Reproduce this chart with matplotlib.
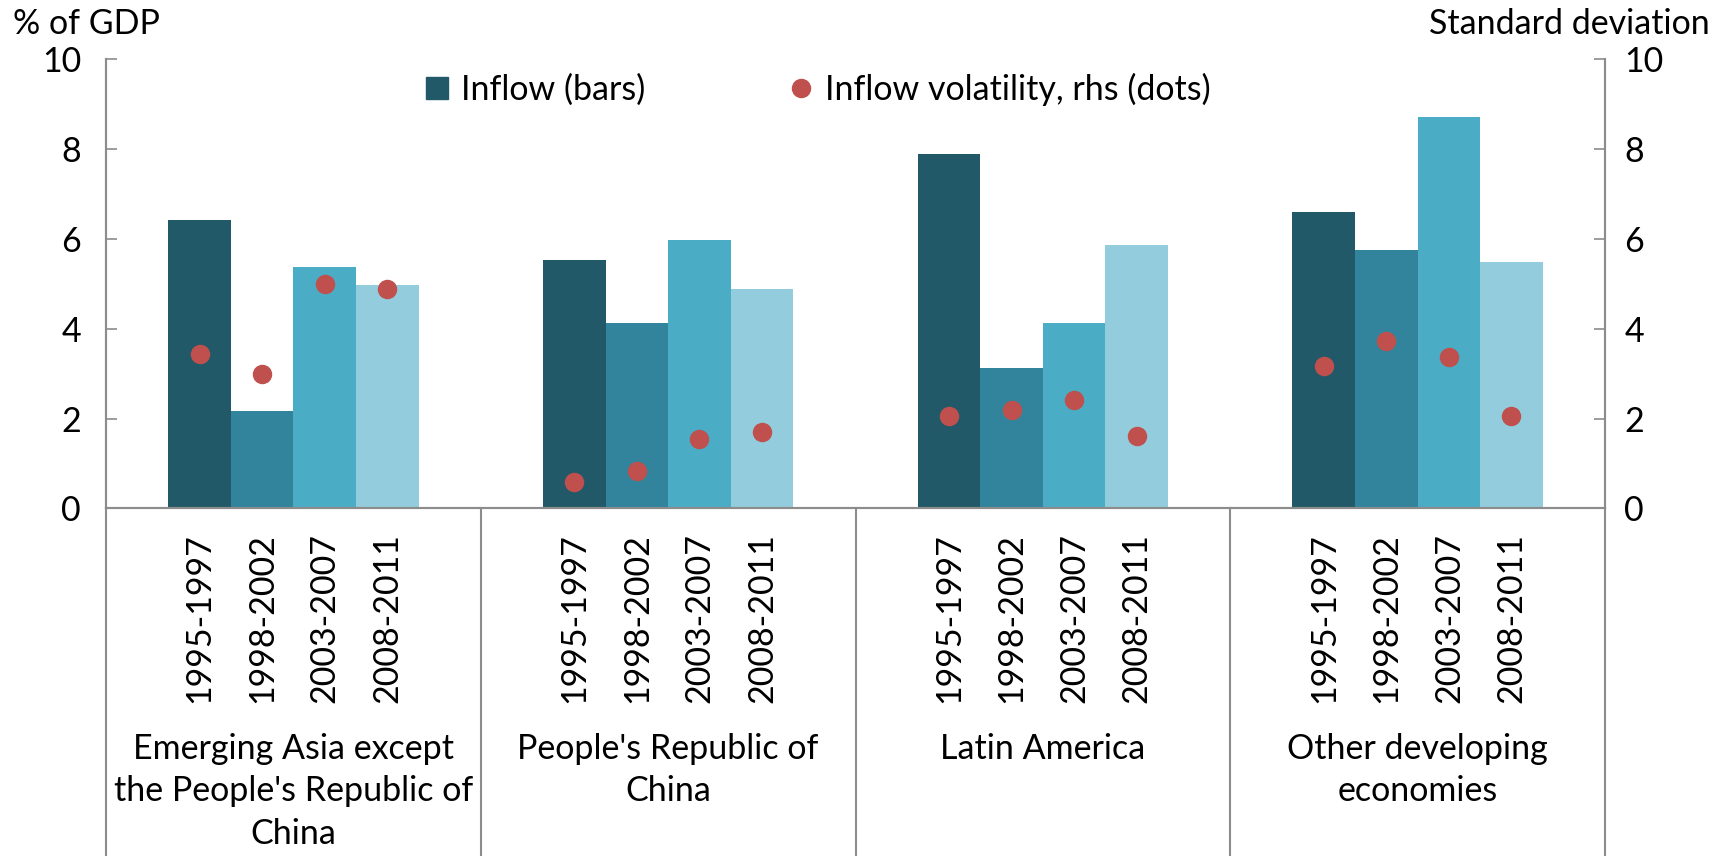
import matplotlib
matplotlib.use("Agg")
import matplotlib.pyplot as plt
import matplotlib.transforms as mtransforms
from matplotlib.lines import Line2D
import numpy as np

plt.rcParams["font.family"] = ["Lato", "DejaVu Sans"]

groups = ["Emerging Asia except\nthe People's Republic of\nChina",
          "People's Republic of\nChina",
          "Latin America",
          "Other developing\neconomies"]
periods = ["1995-1997", "1998-2002", "2003-2007", "2008-2011"]

# inflow, % of GDP (bars) - rows are periods, columns are groups
inflow_9597 = [6.41, 5.53, 7.90, 6.60]
inflow_9802 = [2.17, 4.13, 3.13, 5.76]
inflow_0307 = [5.37, 5.98, 4.13, 8.71]
inflow_0811 = [4.97, 4.88, 5.86, 5.49]

# inflow volatility, standard deviation (dots, rhs)
vol_9597 = [3.44, 0.59, 2.06, 3.17]
vol_9802 = [2.99, 0.82, 2.20, 3.73]
vol_0307 = [4.99, 1.54, 2.42, 3.38]
vol_0811 = [4.88, 1.69, 1.61, 2.05]

inflows = [inflow_9597, inflow_9802, inflow_0307, inflow_0811]
vols = [vol_9597, vol_9802, vol_0307, vol_0811]
bar_colors = ["#225968", "#31849b", "#4bacc6", "#93cddd"]
dot_color = "#c0504d"
grey = "#8c8c8c"
fs = 24.5

W, H = 1712, 856
fig = plt.figure(figsize=(W / 100, H / 100), dpi=100)
left_px, right_px, top_px, bot_px = 106, 1605, 59.3, 508.3
ax = fig.add_axes([left_px / W, 1 - bot_px / H, (right_px - left_px) / W, (bot_px - top_px) / H])
ax2 = ax.twinx()

x = np.arange(len(groups))
bw = 0.167
for i in range(len(periods)):
    ax.bar(x + (i - 1.5) * bw, inflows[i], width=bw, color=bar_colors[i], zorder=2)
    ax2.plot(x + (i - 1.5) * bw, vols[i], linestyle="none", marker="o",
             markersize=13, color=dot_color, zorder=3)

for a in (ax, ax2):
    a.set_ylim(0, 10)
    a.set_yticks([0, 2, 4, 6, 8, 10])
    a.tick_params(axis="y", direction="in", length=8, width=1.2, color=grey, labelsize=fs)
    for s in a.spines.values():
        s.set_color(grey)
        s.set_linewidth(1.5)
    a.spines["top"].set_visible(False)
ax.set_xlim(-0.5, 3.5)
ax.set_xticks([])
ax.tick_params(axis="y", pad=18)
ax2.tick_params(axis="y", pad=14)

# category table below the axis
trans = mtransforms.blended_transform_factory(ax.transData, ax.transAxes)
y_end = -(H - bot_px) / (bot_px - top_px)
for xv in [-0.5, 0.5, 1.5, 2.5, 3.5]:
    ax.add_line(Line2D([xv, xv], [0, y_end], transform=trans, color=grey,
                       linewidth=1.5, clip_on=False))
for g in range(len(groups)):
    for i, p in enumerate(periods):
        ax.text(g + (i - 1.5) * bw, -0.055, p, rotation=90, ha="center", va="top",
                fontsize=fs, transform=trans)
    ax.text(g, -0.5, groups[g], ha="center", va="top", fontsize=fs,
            linespacing=1.4, transform=trans)

fig.text(13 / W, 1 - 24 / H, "% of GDP", ha="left", va="center", fontsize=fs)
fig.text(1 - 2 / W, 1 - 24 / H, "Standard deviation", ha="right", va="center", fontsize=fs)

handles = [Line2D([], [], linestyle="none", marker="s", markersize=16.5, color=bar_colors[0]),
           Line2D([], [], linestyle="none", marker="o", markersize=13, color=dot_color)]
fig.legend(handles, ["Inflow (bars)", "Inflow volatility, rhs (dots)"], loc="center",
           bbox_to_anchor=(817 / W, 1 - 89 / H), ncol=2, frameon=False, fontsize=fs,
           handlelength=0.8, handletextpad=0.3, columnspacing=4.2)

fig.savefig("out.png", dpi=100)
